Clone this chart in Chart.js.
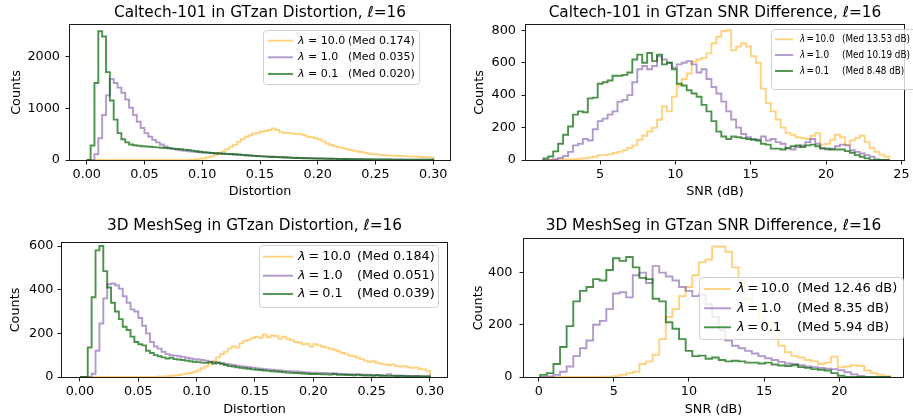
<!DOCTYPE html>
<html><head><meta charset="utf-8">
<script src="https://cdn.jsdelivr.net/npm/chart.js@4.4.0/dist/chart.umd.min.js"></script>
<style>
html,body{margin:0;padding:0;background:#fff;}
body{width:913px;height:419px;position:relative;overflow:hidden;}
canvas{position:absolute;}
</style></head><body>
<canvas id="c0" width="456" height="210" style="left:0;top:0"></canvas>
<canvas id="c1" width="457" height="210" style="left:456px;top:0"></canvas>
<canvas id="c2" width="456" height="209" style="left:0;top:210px"></canvas>
<canvas id="c3" width="457" height="209" style="left:456px;top:210px"></canvas>
<script>
// ---------------- DATA ----------------
const distBinStart = 0;
const distBinWidth = 0.3 / 90;
const trBinStart = 1.24;
const trBinWidth = 0.328;
const brBinStart = 0.1;
const brBinWidth = 0.44;

const lambdas = ['10.0', '1.0', '0.1'];
const tlMed = ['0.174', '0.035', '0.020'];
const trMed = ['13.53 dB', '10.19 dB', '8.48 dB'];
const blMed = ['0.184', '0.051', '0.039'];
const brMed = ['12.46 dB', '8.35 dB', '5.94 dB'];

const tlTitle = 'Caltech-101 in GTzan Distortion, \u2113=16';
const trTitle = 'Caltech-101 in GTzan SNR Difference, \u2113=16';
const blTitle = '3D MeshSeg in GTzan Distortion, \u2113=16';
const brTitle = '3D MeshSeg in GTzan SNR Difference, \u2113=16';

const distXTicks = [0, 0.05, 0.1, 0.15, 0.2, 0.25, 0.3];
const tlYTicks = [0, 1000, 2000];
const trXTicks = [5, 10, 15, 20, 25];
const trYTicks = [0, 200, 400, 600, 800];
const blYTicks = [0, 200, 400, 600];
const brXTicks = [0, 5, 10, 15, 20];
const brYTicks = [0, 200, 400];

// Caltech-101 distortion (90 bins, 0..0.3)
const tlYellow = [0,0,0,0,0,0,0,0,0,0,
 0,0,0,0,0,0,0,0,0,0,
 0,1,1,2,2,3,5,8,14,22,
 35,50,70,100,130,165,210,250,290,350,
 400,450,480,515,525,550,560,580,610,580,
 540,520,525,510,505,500,480,450,440,420,
 400,360,320,290,265,245,232,215,195,180,
 165,150,135,122,112,105,100,95,90,85,
 82,78,74,70,66,70,62,58,55,51];
const tlPurple = [0,0,110,420,870,1250,1570,1490,1400,1300,
 1170,1010,870,740,620,520,450,390,340,300,
 260,230,215,200,190,180,170,165,160,150,
 145,140,135,130,125,120,115,110,105,100,
 95,90,86,82,78,74,70,66,62,58,
 55,52,49,46,43,40,38,36,34,32,
 30,28,26,25,23,22,21,20,19,18,
 17,16,15,14,13,12,12,11,10,10,
 9,9,8,8,7,7,6,6,5,5];
const tlGreen = [0,280,1490,2490,2390,1700,1150,780,520,400,
 340,300,285,275,265,260,255,250,245,238,
 232,226,220,214,207,200,192,182,170,160,
 150,142,135,130,125,120,118,115,110,105,
 100,92,85,80,74,70,66,62,58,55,
 52,48,45,42,40,38,35,33,31,30,
 28,26,25,23,22,20,19,18,17,16,
 15,14,13,12,12,11,10,10,9,8,
 8,7,7,6,6,5,5,4,4,4];

// Caltech-101 SNR (70 bins)
const trYellow = [0,0,0,2,3,4,5,8,10,15,
 20,30,30,35,43,50,60,74,90,125,
 150,176,200,248,330,300,391,460,500,534,
 606,620,630,658,720,760,794,800,677,700,
 720,700,640,600,440,351,300,250,200,166,
 156,140,135,130,150,166,95,100,125,156,
 140,95,120,135,150,110,74,50,33,20];
const trPurple = [0,0,5,12,25,50,90,100,130,120,
 190,240,255,280,300,360,370,400,480,560,
 580,560,580,640,620,600,570,590,600,610,
 590,540,560,500,450,410,360,300,250,200,
 160,140,130,125,145,120,130,110,100,70,
 65,80,90,110,130,100,75,65,70,85,
 95,90,60,50,40,30,20,5,0,0];
const trGreen = [10,22,53,100,156,207,280,300,295,380,
 385,470,480,490,520,520,525,540,620,650,
 600,660,610,650,590,600,560,470,460,430,
 410,390,340,300,240,175,145,130,145,140,
 135,130,125,120,100,95,70,70,65,75,
 85,90,80,90,95,85,70,70,65,65,
 65,55,45,30,20,10,0,0,0,0];

// 3D MeshSeg distortion (90 bins, 0..0.3)
const blYellow = [0,0,0,0,0,0,0,0,0,0,
 0,0,0,0,0,0,0,0,0,0,
 2,3,4,5,7,9,12,15,18,24,
 30,40,48,60,72,90,105,115,130,140,
 135,155,165,170,178,185,180,195,182,190,
 188,175,185,175,168,160,158,150,152,140,
 150,145,140,135,130,125,118,110,105,98,
 95,88,82,75,70,72,65,60,58,55,
 58,50,48,50,45,42,44,38,35,28];
const blPurple = [0,0,0,15,120,245,360,425,428,420,
 405,370,340,310,300,270,235,200,160,140,
 130,115,105,100,98,95,92,88,85,82,
 80,78,75,70,68,65,64,60,58,55,
 52,50,47,45,43,40,38,36,35,33,
 31,30,28,27,26,25,24,22,21,20,
 20,19,18,17,17,16,15,14,14,13,
 12,12,11,10,10,9,9,8,8,13,
 7,7,6,6,5,5,5,4,4,4];
const blGreen = [0,0,135,365,580,600,485,410,340,300,
 265,230,215,185,160,150,145,120,110,100,
 95,90,85,88,82,80,78,75,72,70,
 68,66,65,68,62,65,60,55,50,48,
 45,42,40,38,35,33,32,30,28,26,
 25,24,22,20,19,18,17,16,15,14,
 14,13,12,12,11,14,10,10,9,9,
 8,10,8,7,7,6,8,6,5,5,
 5,4,5,4,4,3,4,3,3,3];

// 3D MeshSeg SNR (53 bins)
const brYellow = [0,0,0,0,0,0,0,0,0,1,
 1,3,8,15,20,50,60,85,145,230,
 260,310,345,390,440,450,500,500,480,420,
 370,300,260,225,200,150,120,95,80,75,
 65,60,50,55,78,38,40,45,42,25,
 15,8,3];
const brPurple = [0,2,8,20,40,80,110,140,200,215,
 260,320,325,305,390,400,360,425,400,385,
 370,345,330,310,315,280,230,180,140,120,
 110,100,90,80,72,65,58,52,50,45,
 40,38,35,32,30,26,18,10,4,0,
 0,0,0];
const brGreen = [8,15,50,115,195,290,330,345,375,370,
 410,455,445,460,420,380,375,300,290,210,
 185,145,100,80,82,70,75,65,60,62,
 60,55,55,52,55,48,44,42,45,38,
 35,30,28,25,15,5,0,0,0,0,
 0,0,0];

// ---------------- STYLE ----------------
const seriesColors = ['rgba(255,165,0,0.5)', 'rgba(102,51,153,0.5)', 'rgba(0,100,0,0.7)'];
const FONT = "'DejaVu Sans', sans-serif";
const TICK_SIZE = 12.8, LABEL_SIZE = 12.8, TITLE_SIZE = 15.3;
Chart.defaults.font.family = FONT;
Chart.defaults.color = '#000';

function steps(start, width, counts) {
  const pts = [{x: start, y: 0}];
  counts.forEach((c, i) => pts.push({x: start + i * width, y: c}));
  pts.push({x: start + counts.length * width, y: 0});
  return pts;
}

function roundRectPath(ctx, x, y, w, h, r) {
  ctx.beginPath();
  ctx.moveTo(x + r, y);
  ctx.lineTo(x + w - r, y);
  ctx.arcTo(x + w, y, x + w, y + r, r);
  ctx.lineTo(x + w, y + h - r);
  ctx.arcTo(x + w, y + h, x + w - r, y + h, r);
  ctx.lineTo(x + r, y + h);
  ctx.arcTo(x, y + h, x, y + h - r, r);
  ctx.lineTo(x, y + r);
  ctx.arcTo(x, y, x + r, y, r);
  ctx.closePath();
}

function drawText(ctx, text, x, y, sx) {
  ctx.save();
  ctx.translate(x, y);
  ctx.scale(sx, 1);
  ctx.fillText(text, 0, 0);
  ctx.restore();
}

const framePlugin = {
  id: 'frame',
  afterDraw(chart, args, o) {
    const ctx = chart.ctx, a = chart.chartArea;
    ctx.save();
    ctx.strokeStyle = '#1a1a1a';
    ctx.lineWidth = 1;
    const l = Math.round(a.left), r = Math.round(a.right), t = Math.round(a.top), b = Math.round(a.bottom);
    ctx.strokeRect(l - 0.5, t - 0.5, r - l + 1, b - t + 1);
    const lg = o.legend;
    const sx = lg.sx || 1;
    roundRectPath(ctx, lg.x + 0.5, lg.y + 0.5, lg.w, lg.h, 3);
    ctx.fillStyle = 'rgba(255,255,255,0.8)';
    ctx.fill();
    ctx.strokeStyle = 'rgba(204,204,204,0.9)';
    ctx.stroke();
    o.meds.forEach((m, i) => {
      const y = lg.rows[i];
      ctx.strokeStyle = seriesColors[i];
      ctx.lineWidth = 1.9;
      ctx.beginPath(); ctx.moveTo(lg.hx1, y); ctx.lineTo(lg.hx2, y); ctx.stroke();
      ctx.fillStyle = '#000';
      ctx.textBaseline = 'middle';
      ctx.textAlign = 'left';
      let x = lg.tx;
      ctx.font = 'italic ' + lg.size + 'px ' + FONT;
      drawText(ctx, '\u03bb', x, y, sx);
      x += (ctx.measureText('\u03bb').width + lg.gap) * sx;
      ctx.font = lg.size + 'px ' + FONT;
      drawText(ctx, '=', x, y, sx);
      x += (ctx.measureText('=').width + lg.gap) * sx;
      drawText(ctx, lambdas[i], x, y, sx);
      drawText(ctx, '(Med ' + m + ')', lg.mx, y, sx);
    });
    ctx.restore();
  }
};

const panels = [
  {id: 'c0', W: 456, H: 210, L: 70, R: 450, T: 25, B: 160,
   xmin: -0.0145, xmax: 0.3145, ymax: 2612, xTicks: distXTicks, yTicks: tlYTicks, xDec: 2,
   title: tlTitle, tPad: [3.5, 3.1], xTitle: 'Distortion', xPad: 10.6, yPad: 9.0, yTickPad: 5.5,
   start: distBinStart, width: distBinWidth, series: [tlYellow, tlPurple, tlGreen], meds: tlMed,
   legend: {x: 263, y: 30, w: 156, h: 54, rows: [40.7, 57.3, 74], hx1: 268, hx2: 293, tx: 298, mx: 348, size: 11, gap: 3.5}},
  {id: 'c1', W: 457, H: 210, L: 70, R: 448, T: 25, B: 160,
   xmin: 0.09, xmax: 25.17, ymax: 833, xTicks: trXTicks, yTicks: trYTicks, xDec: 0,
   title: trTitle, tPad: [3.5, 3.1], xTitle: 'SNR (dB)', xPad: 10.6, yPad: 15.6, yTickPad: 5.5,
   start: trBinStart, width: trBinWidth, series: [trYellow, trPurple, trGreen], meds: trMed,
   legend: {x: 315, y: 29, w: 150, h: 60, rows: [39.3, 55, 71], hx1: 319, hx2: 337, tx: 344, mx: 386, size: 11, gap: 1.5, sx: 0.8}},
  {id: 'c2', W: 456, H: 209, L: 62, R: 447, T: 33, B: 167,
   xmin: -0.0154, xmax: 0.3146, ymax: 614, xTicks: distXTicks, yTicks: blYTicks, xDec: 2,
   title: blTitle, tPad: [6.8, 7.8], xTitle: 'Distortion', xPad: 2.0, yPad: 8.3, yTickPad: 4,
   start: distBinStart, width: distBinWidth, series: [blYellow, blPurple, blGreen], meds: blMed,
   legend: {x: 259, y: 35, w: 179, h: 62, rows: [46.7, 65.7, 84], hx1: 263, hx2: 293, tx: 298, mx: 357, size: 12.8, gap: 3}},
  {id: 'c3', W: 457, H: 209, L: 68, R: 447, T: 29, B: 167,
   xmin: -0.978, xmax: 24.24, ymax: 529, xTicks: brXTicks, yTicks: brYTicks, xDec: 0,
   title: brTitle, tPad: [6.8, 3.8], xTitle: 'SNR (dB)', xPad: 2.0, yPad: 15.0, yTickPad: 7,
   start: brBinStart, width: brBinWidth, series: [brYellow, brPurple, brGreen], meds: brMed,
   legend: {x: 243, y: 67, w: 204, h: 62, rows: [79, 98.3, 117.3], hx1: 248, hx2: 275, tx: 281, mx: 341, size: 13, gap: 2.5}}
];

panels.forEach(p => {
  const datasets = p.series.map((s, i) => ({
    data: steps(p.start, p.width, s),
    borderColor: seriesColors[i],
    borderWidth: 1.9,
    stepped: 'before',
    pointRadius: 0,
    pointHoverRadius: 0,
    fill: false,
    tension: 0,
    borderJoinStyle: 'miter',
    borderCapStyle: 'butt',
    order: 3 - i
  }));
  new Chart(document.getElementById(p.id), {
    type: 'line',
    data: {datasets},
    plugins: [framePlugin],
    options: {
      responsive: false,
      animation: false,
      devicePixelRatio: 1,
      events: [],
      layout: {padding: {left: 0, right: p.W - p.R, top: 0, bottom: 0}},
      plugins: {
        legend: {display: false},
        tooltip: {enabled: false},
        title: {display: true, text: p.title, fullSize: false, color: '#000',
                font: {size: TITLE_SIZE, weight: 'normal', family: FONT, lineHeight: 1.2},
                padding: {top: p.tPad[0], bottom: p.tPad[1]}},
        frame: {legend: p.legend, meds: p.meds}
      },
      scales: {
        x: {
          type: 'linear', min: p.xmin, max: p.xmax,
          afterFit: s => { s.height = p.H - p.B; },
          afterBuildTicks: s => { s.ticks = p.xTicks.map(v => ({value: v})); },
          ticks: {autoSkip: false, maxRotation: 0, minRotation: 0, padding: 2.5, color: '#000',
                  font: {size: TICK_SIZE, family: FONT},
                  callback: v => Number(v).toFixed(p.xDec)},
          grid: {drawOnChartArea: false, drawTicks: true, tickLength: 4.5, tickColor: '#1a1a1a', tickWidth: 1, color: '#1a1a1a'},
          border: {display: false},
          title: {display: true, text: p.xTitle, color: '#000', font: {size: LABEL_SIZE, family: FONT, lineHeight: 1.2},
                  padding: {top: 0, bottom: p.xPad}}
        },
        y: {
          type: 'linear', min: 0, max: p.ymax,
          afterFit: s => { s.width = p.L; },
          afterBuildTicks: s => { s.ticks = p.yTicks.map(v => ({value: v})); },
          ticks: {autoSkip: false, padding: p.yTickPad, color: '#000',
                  font: {size: TICK_SIZE, family: FONT},
                  callback: v => String(v)},
          grid: {drawOnChartArea: false, drawTicks: true, tickLength: 4.5, tickColor: '#1a1a1a', tickWidth: 1, color: '#1a1a1a'},
          border: {display: false},
          title: {display: true, text: 'Counts', color: '#000', font: {size: LABEL_SIZE, family: FONT, lineHeight: 1.2},
                  padding: {top: p.yPad, bottom: 0}}
        }
      }
    }
  });
});
</script>
</body></html>
